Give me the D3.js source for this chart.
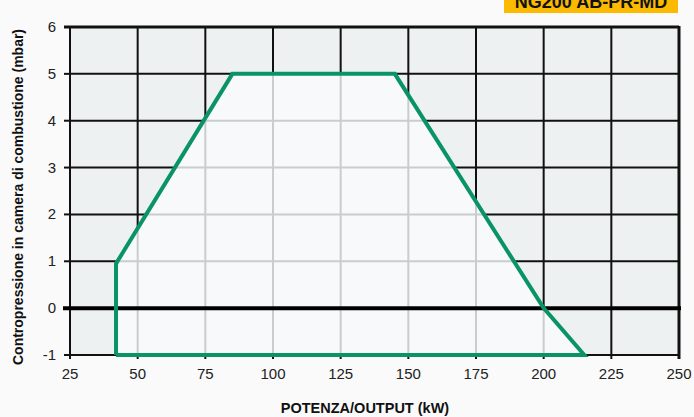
<!DOCTYPE html>
<html>
<head>
<meta charset="utf-8">
<script src="https://cdn.jsdelivr.net/npm/d3@7/dist/d3.min.js"></script>
<style>
  body{margin:0;background:#fafafa;}
  svg{display:block;font-family:"Liberation Sans",Arial,Helvetica,sans-serif;}
</style>
</head>
<body>
<svg id="chart" width="694" height="417"></svg>
<script>
// dati
var xTicks=[25,50,75,100,125,150,175,200,225,250];
var yTicks=[-1,0,1,2,3,4,5,6];
var curveX=[42,42,85,145,200,215,42];
var curveY=[-1,0.95,5,5,0,-1,-1];
var title="NG200 AB-PR-MD";
var xLabel="POTENZA/OUTPUT (kW)";
var yLabel="Contropressione in camera di combustione (mbar)";

var svg=d3.select("#chart");
var pL=70,pR=679,pT=27,pB=355;
var x=d3.scaleLinear().domain([25,250]).range([pL,pR]);
var y=d3.scaleLinear().domain([-1,6]).range([pB,pT]);

//badge
svg.append("rect").attr("x",504).attr("y",0).attr("width",174).attr("height",13).attr("fill","#fbb900");
svg.append("text").attr("x",591).attr("y",8).attr("text-anchor","middle")
  .attr("font-size",18).attr("font-weight","bold").attr("fill","#111").text(title);

//sfondo
svg.append("rect").attr("x",pL).attr("y",pT).attr("width",pR-pL).attr("height",pB-pT).attr("fill","#eef1f2");

function grid(g,color){
  g.selectAll("line.v").data(xTicks).enter().append("line").attr("class","v")
    .attr("x1",function(d){return x(d);}).attr("x2",function(d){return x(d);})
    .attr("y1",pT).attr("y2",pB).attr("stroke",color).attr("stroke-width",2);
  g.selectAll("line.h").data(yTicks).enter().append("line").attr("class","h")
    .attr("x1",pL).attr("x2",pR)
    .attr("y1",function(d){return y(d);}).attr("y2",function(d){return y(d);})
    .attr("stroke",color).attr("stroke-width",2);
}
grid(svg.append("g"),"#111");

var pts=curveX.map(function(d,i){return [x(d),y(curveY[i])];});
var line=d3.line();
svg.append("path").attr("d",line(pts)+"Z").attr("fill","#f7f9fa");

svg.append("clipPath").attr("id","poly").append("path").attr("d",line(pts)+"Z");
grid(svg.append("g").attr("clip-path","url(#poly)"),"#c9cdcd");

//ticks
svg.selectAll("line.yt").data(yTicks).enter().append("line").attr("class","yt")
  .attr("x1",pL-6).attr("x2",pL).attr("y1",function(d){return y(d);}).attr("y2",function(d){return y(d);})
  .attr("stroke","#111").attr("stroke-width",2);
svg.selectAll("line.xt").data(xTicks).enter().append("line").attr("class","xt")
  .attr("x1",function(d){return x(d);}).attr("x2",function(d){return x(d);}).attr("y1",pB).attr("y2",pB+4)
  .attr("stroke","#111").attr("stroke-width",2);
//bordo
svg.append("line").attr("x1",pL).attr("x2",pL).attr("y1",pT).attr("y2",pB).attr("stroke","#111").attr("stroke-width",2);
svg.append("line").attr("x1",pR).attr("x2",pR).attr("y1",pT-1).attr("y2",pB+4).attr("stroke","#111").attr("stroke-width",3);
svg.append("line").attr("x1",pL-6).attr("x2",pR).attr("y1",pT).attr("y2",pT).attr("stroke","#111").attr("stroke-width",3);
svg.append("line").attr("x1",pL).attr("x2",pR).attr("y1",pB).attr("y2",pB).attr("stroke","#111").attr("stroke-width",2);
//zero
svg.append("line").attr("x1",63).attr("x2",681).attr("y1",y(0)).attr("y2",y(0)).attr("stroke","#000").attr("stroke-width",4);

svg.append("path").attr("d",line(pts)).attr("fill","none").attr("stroke","#0a9464").attr("stroke-width",4).attr("stroke-linejoin","miter");

//etichette
svg.selectAll("text.yl").data(yTicks).enter().append("text").attr("class","yl")
  .attr("x",56).attr("y",function(d){return y(d)+5;}).attr("text-anchor","end")
  .attr("font-size",15).attr("fill","#222").text(function(d){return d;});
svg.selectAll("text.xl").data(xTicks).enter().append("text").attr("class","xl")
  .attr("x",function(d){return x(d);}).attr("y",379).attr("text-anchor","middle")
  .attr("font-size",15).attr("fill","#222").text(function(d){return d;});

svg.append("text").attr("x",365).attr("y",413).attr("text-anchor","middle")
  .attr("font-size",14.5).attr("font-weight","bold").attr("fill","#111").text(xLabel);
svg.append("text").attr("transform","translate(23,197) rotate(-90)").attr("text-anchor","middle")
  .attr("font-size",14).attr("font-weight","bold").attr("fill","#111").text(yLabel);
</script>
</body>
</html>
